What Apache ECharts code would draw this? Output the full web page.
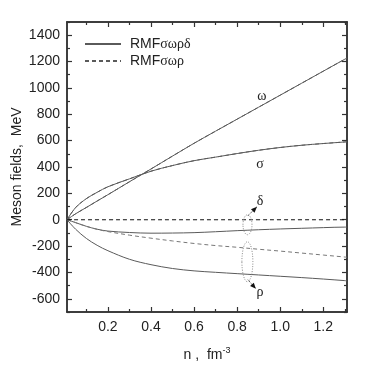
<!DOCTYPE html>
<html><head><meta charset="utf-8">
<script src="https://cdn.jsdelivr.net/npm/echarts@6/dist/echarts.min.js"></script>
<style>html,body{margin:0;padding:0;background:#fff}#c{width:374px;height:374px}</style>
</head><body><div id="c"></div>
<script>
// ---- data ----
const density = [0.01, 0.05, 0.1, 0.15, 0.2, 0.3, 0.4, 0.5, 0.6, 0.7, 0.8, 0.9, 1.0, 1.1, 1.2, 1.3, 1.31];
const omegaField = [0, 45, 93, 142, 190, 288, 385, 483, 580, 672, 763, 854, 945, 1036, 1127, 1218, 1226];
const sigmaField = [0, 92, 160, 208, 250, 310, 368, 411, 448, 475, 502, 527, 548, 565, 578, 590, 592];
const deltaField = [0, -22, -50, -72, -86, -97, -102, -101, -98, -91, -83, -76, -70, -65, -60, -56, -56];
const rhoFieldD = [0, -72, -142, -194, -235, -300, -341, -370, -388, -399, -409, -419, -429, -439, -450, -462, -464];
const rhoFieldNoD = [0, -22, -50, -73, -90, -117, -140, -161, -180, -196, -209, -224, -238, -253, -268, -283, -285];
const deltaFieldNoD = [0, 0, 0, 0, 0, 0, 0, 0, 0, 0, 0, 0, 0, 0, 0, 0, 0];
const xMajorTicks = [0.2, 0.4, 0.6, 0.8, 1.0, 1.2];
const xMinorTicks = [0.1, 0.3, 0.5, 0.7, 0.9, 1.1, 1.3];
const xLabels = [0.2, 0.4, 0.6, 0.8, 1.0, 1.2];
const yMajorTicks = [-600, -400, -200, 0, 200, 400, 600, 800, 1000, 1200, 1400];
const yMinorTicks = [-700, -500, -300, -100, 100, 300, 500, 700, 900, 1100, 1300, 1500];
const legendNames = ['RMFσωρδ', 'RMFσωρ'];
// annotation labels [text, n, value]
const notes = [['ω', 0.915, 933], ['σ', 0.906, 417], ['δ', 0.906, 137], ['ρ', 0.906, -554]];
// arrows [n0,v0,n1,v1]
const arrows = [[0.850, 30, 0.892, 99], [0.850, -455, 0.887, -524]];
// dotted ellipses [nLeft, vTop, nRight, vBottom]
const ellipses = [[0.827, 38, 0.869, -114], [0.822, -167, 0.873, -470]];

const X_MIN = 0.01, X_MAX = 1.31, Y_MIN = -700, Y_MAX = 1500;
const FRAME = '#333';
const LINE = '#5a5a5a';
const FONT = 'Liberation Sans, Arial, sans-serif';
const SERIF = 'Liberation Serif, Times New Roman, serif';

function zip(a, b) { return a.map((v, i) => [v, b[i]]); }

function xAxisDef(pos, ticks, len, labels) {
  return {
    type: 'value', position: pos, min: X_MIN, max: X_MAX,
    axisLine: { show: true, onZero: false, lineStyle: { color: FRAME, width: 1.5 } },
    axisTick: { show: true, inside: true, length: len, customValues: ticks, lineStyle: { color: FRAME, width: 1.2 } },
    axisLabel: labels ? { show: true, customValues: xLabels, formatter: v => Number(v).toFixed(1), color: '#222', fontSize: 14, fontFamily: FONT, margin: 8 } : { show: false },
    splitLine: { show: false },
    name: labels ? 'n ,  fm{sup|-3}' : '',
    nameLocation: 'middle', nameGap: 34, nameMoveOverlap: false,
    nameTextStyle: labels ? {
      fontSize: 14, fontFamily: FONT, color: '#222',
      rich: { sup: { fontSize: 9, fontFamily: FONT, color: '#222', verticalAlign: 'top', padding: [0, 0, 10, 0] } }
    } : {}
  };
}
function yAxisDef(pos, ticks, len, labels) {
  return {
    type: 'value', position: pos, min: Y_MIN, max: Y_MAX,
    axisLine: { show: true, onZero: false, lineStyle: { color: FRAME, width: 1.5 } },
    axisTick: { show: true, inside: true, length: len, customValues: ticks, lineStyle: { color: FRAME, width: 1.2 } },
    axisLabel: labels ? { show: true, customValues: yMajorTicks, formatter: v => String(Math.round(v)), color: '#222', fontSize: 14, fontFamily: FONT, margin: 7 } : { show: false },
    splitLine: { show: false },
    name: labels ? 'Meson fields,  MeV' : '',
    nameLocation: 'middle', nameGap: 43, nameRotate: 90, nameMoveOverlap: false,
    nameTextStyle: { fontSize: 14, fontFamily: FONT, color: '#222' }
  };
}

function lineSeries(name, ys, dashed, color, width) {
  return {
    type: 'line', name: name, data: zip(density, ys), smooth: 0.35,
    showSymbol: false, symbol: 'none', silent: true, animation: false,
    lineStyle: { color: color || LINE, width: width || 1, type: dashed ? [4, 3] : 'solid' },
    itemStyle: { color: color || LINE },
    xAxisIndex: 0, yAxisIndex: 0, z: 3
  };
}

const chart = echarts.init(document.getElementById('c'));
chart.setOption({
  animation: false,
  grid: { left: 67, right: 27, top: 22, bottom: 62, containLabel: false, outerBoundsMode: 'none' },
  xAxis: [
    xAxisDef('bottom', xMajorTicks, 5, true),
    xAxisDef('bottom', xMinorTicks, 3, false),
    xAxisDef('top', xMajorTicks, 5, false),
    xAxisDef('top', xMinorTicks, 3, false)
  ],
  yAxis: [
    yAxisDef('left', yMajorTicks, 5, true),
    yAxisDef('left', yMinorTicks, 3, false),
    yAxisDef('right', yMajorTicks, 5, false),
    yAxisDef('right', yMinorTicks, 3, false)
  ],
  legend: {
    data: legendNames, orient: 'vertical', left: 79, top: 32, itemGap: 3,
    itemWidth: 36, itemHeight: 14, selectedMode: false,
    itemStyle: { opacity: 0 },
    formatter: name => '{a|RMF}{b|' + name.slice(3) + '}',
    textStyle: {
      rich: {
        a: { fontSize: 14, fontFamily: FONT, color: '#222', padding: [0, 0, 0, 4] },
        b: { fontSize: 14, fontFamily: SERIF, color: '#222' }
      }
    }
  },
  series: [
    lineSeries(legendNames[0], omegaField, false),
    lineSeries(legendNames[0], sigmaField, false),
    lineSeries(legendNames[0], deltaField, false),
    lineSeries(legendNames[0], rhoFieldD, false),
    lineSeries(legendNames[1], omegaField, true),
    lineSeries(legendNames[1], sigmaField, true),
    lineSeries(legendNames[1], rhoFieldNoD, true, '#777'),
    lineSeries('zero', deltaFieldNoD, true, '#111', 1.2)
  ]
});

// annotations, placed in data coordinates
const px = (a, b) => chart.convertToPixel({ xAxisIndex: 0, yAxisIndex: 0 }, [a, b]);
const g = [];
notes.forEach(([t, a, b]) => {
  const p = px(a, b);
  g.push({ type: 'text', x: p[0], y: p[1], style: { text: t, fontSize: 14, fontFamily: SERIF, fill: '#222', align: 'center', verticalAlign: 'middle' }, z: 10 });
});
ellipses.forEach(([a0, b0, a1, b1]) => {
  const p0 = px(a0, b0), p1 = px(a1, b1);
  g.push({ type: 'ellipse', shape: { cx: (p0[0] + p1[0]) / 2, cy: (p0[1] + p1[1]) / 2, rx: Math.abs(p1[0] - p0[0]) / 2, ry: Math.abs(p1[1] - p0[1]) / 2 },
    style: { fill: 'none', stroke: '#888', lineWidth: 1, lineDash: [1, 1.5] }, z: 9 });
});
arrows.forEach(([a0, b0, a1, b1]) => {
  const p0 = px(a0, b0), p1 = px(a1, b1);
  g.push({ type: 'line', shape: { x1: p0[0], y1: p0[1], x2: p1[0], y2: p1[1] }, style: { stroke: '#333', lineWidth: 1, lineDash: [1, 1] }, z: 10 });
  const ang = Math.atan2(p1[1] - p0[1], p1[0] - p0[0]);
  const L = 6, W = 2.5;
  const bx = p1[0] - L * Math.cos(ang), by = p1[1] - L * Math.sin(ang);
  g.push({ type: 'polygon', shape: { points: [[p1[0], p1[1]], [bx - W * Math.sin(ang), by + W * Math.cos(ang)], [bx + W * Math.sin(ang), by - W * Math.cos(ang)]] }, style: { fill: '#111' }, z: 10 });
});
chart.setOption({ graphic: g });
</script>
</body></html>
